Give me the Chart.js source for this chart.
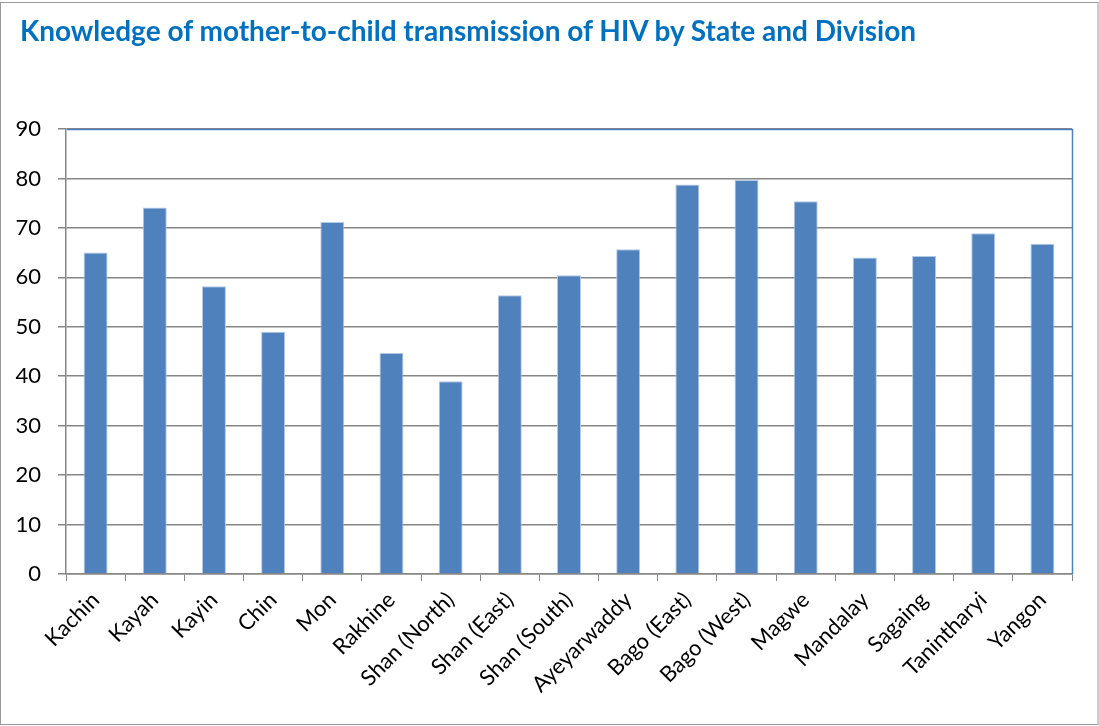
<!DOCTYPE html>
<html>
<head>
<meta charset="utf-8">
<script src="https://cdn.jsdelivr.net/npm/chart.js@4.4.1/dist/chart.umd.min.js"></script>
<style>
  html, body { margin: 0; padding: 0; background: #ffffff; }
  #wrap { position: relative; width: 1099px; height: 726px; }
  canvas { display: block; }
  #title {
    position: absolute; left: 20px; top: 14px;
    font: 700 28px/33.6px Lato, sans-serif;
    color: #0070C0; white-space: nowrap; margin: 0;
  }
</style>
</head>
<body>
<div id="wrap">
  <canvas id="chart" width="1099" height="726"></canvas>
  <div id="title"></div>
</div>
<script>
// States and divisions
const regions = [
  'Kachin', 'Kayah', 'Kayin', 'Chin', 'Mon', 'Rakhine', 'Shan (North)',
  'Shan (East)', 'Shan (South)', 'Ayeyarwaddy', 'Bago (East)', 'Bago (West)',
  'Magwe', 'Mandalay', 'Sagaing', 'Tanintharyi', 'Yangon'
];

// Percentage with knowledge of mother-to-child transmission
const knowledgePct = [
  65.0, 74.1, 58.2, 49.0, 71.2, 44.7, 39.0,
  56.4, 60.4, 65.7, 78.8, 79.7,
  75.4, 64.0, 64.3, 68.9, 66.8
];

// Value axis
const yMin = 0;
const yMax = 90;
const yStep = 10;

const chartTitle = 'Knowledge of mother-to-child transmission of HIV by State and Division';
document.getElementById('title').textContent = chartTitle;

const BAR_BLUE = '#4F81BD';
const GRID_GREY = '#868686';

// Outer frame plus the blue top/right edges of the plot area
const framePlugin = {
  id: 'frame',
  beforeDraw(chart) {
    const ctx = chart.ctx;
    ctx.save();
    ctx.fillStyle = '#ffffff';
    ctx.fillRect(0, 0, chart.width, chart.height);
    ctx.strokeStyle = '#9a9a9a';
    ctx.lineWidth = 1;
    ctx.strokeRect(0.5, 2.5, chart.width - 1.5, chart.height - 4);
    ctx.restore();
  },
  afterDraw(chart) {
    const a = chart.chartArea;
    const ctx = chart.ctx;
    ctx.save();
    ctx.strokeStyle = BAR_BLUE;
    ctx.lineWidth = 1.5;
    ctx.beginPath();
    ctx.moveTo(Math.round(a.left) + 1, Math.round(a.top) + 0.5);
    ctx.lineTo(Math.round(a.right) + 0.5, Math.round(a.top) + 0.5);
    ctx.lineTo(Math.round(a.right) + 0.5, Math.round(a.bottom));
    ctx.stroke();
    ctx.restore();
  }
};

new Chart(document.getElementById('chart'), {
  type: 'bar',
  data: {
    labels: regions,
    datasets: [{
      data: knowledgePct,
      backgroundColor: BAR_BLUE,
      borderColor: '#B4C9E4',
      borderWidth: 1,
      barPercentage: 0.405,
      categoryPercentage: 1.0
    }]
  },
  options: {
    responsive: false,
    animation: false,
    devicePixelRatio: 1,
    layout: { padding: { top: 129, left: 0, right: 27, bottom: 0 } },
    plugins: {
      legend: { display: false },
      tooltip: { enabled: false },
      title: { display: false }
    },
    scales: {
      x: {
        offset: true,
        grid: {
          offset: true,
          drawOnChartArea: false,
          drawTicks: true,
          tickLength: 7,
          color: GRID_GREY,
          lineWidth: 1
        },
        border: { display: true, color: GRID_GREY, width: 1.5 },
        ticks: {
          color: '#000000',
          font: { family: 'Lato', size: 22 },
          maxRotation: 45,
          minRotation: 45,
          autoSkip: false,
          padding: 6
        },
        afterFit(scale) { scale.height = 152; }
      },
      y: {
        min: yMin,
        max: yMax,
        grid: {
          color: GRID_GREY,
          lineWidth: 1.5,
          drawTicks: true,
          tickLength: 8
        },
        border: { display: true, color: GRID_GREY, width: 1.5 },
        ticks: {
          stepSize: yStep,
          color: '#000000',
          font: { family: 'Lato', size: 22 },
          padding: 17
        },
        afterFit(scale) { scale.width = 66; }
      }
    }
  },
  plugins: [framePlugin]
});
</script>
</body>
</html>
